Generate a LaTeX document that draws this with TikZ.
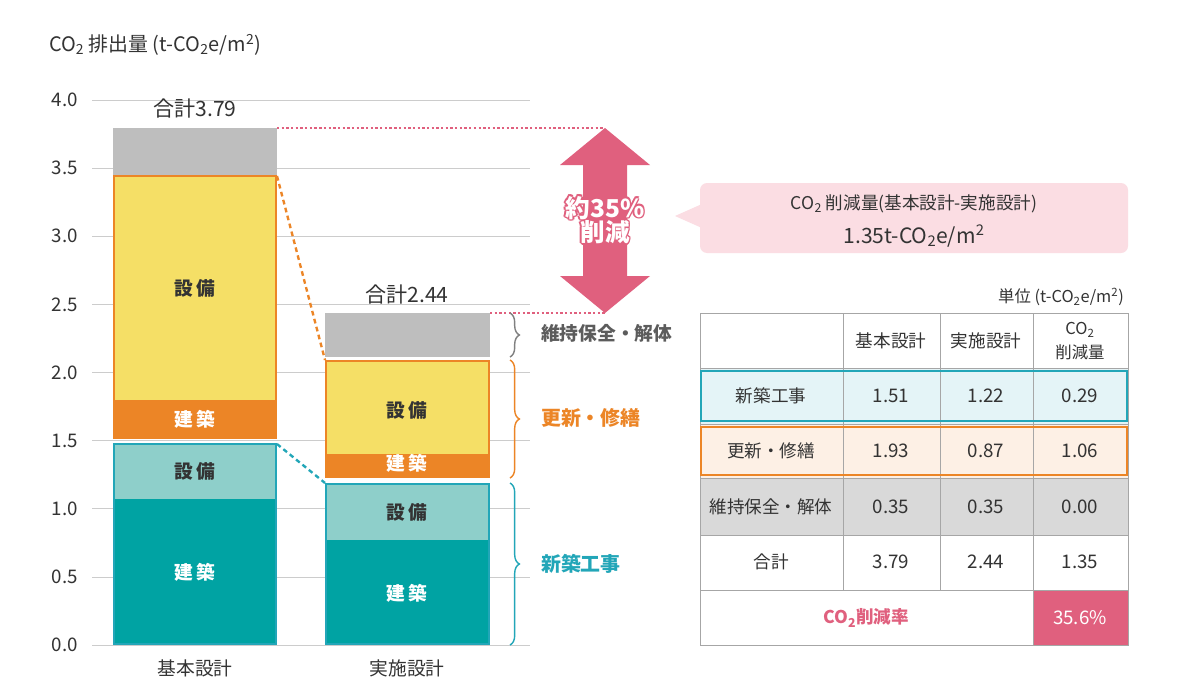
\documentclass[tikz,border=0pt]{standalone}
\usepackage{fontspec}
\setmainfont{Noto Sans CJK JP}
\usetikzlibrary{decorations.pathreplacing,shapes.arrows}
\definecolor{cgray}{HTML}{BEBEBE}
\definecolor{cyel}{HTML}{F5DF66}
\definecolor{cora}{HTML}{EC8526}
\definecolor{cltl}{HTML}{8ECFCA}
\definecolor{cdtl}{HTML}{00A3A3}
\definecolor{ctb}{HTML}{22A6B8}
\definecolor{cpink}{HTML}{E0607E}
\definecolor{cpbg}{HTML}{FBDDE3}
\definecolor{ctxt}{HTML}{333333}
\newcommand{\fs}[1]{\fontsize{#1}{#1}\selectfont}
\tikzset{
 lbl/.style={text=ctxt,font=\fs{16}},
 barlbl/.style={text=ctxt,font=\fs{16}\bfseries},
 cell/.style={text=ctxt,font=\fs{14}},
 grid/.style={draw=gray!40,line width=0.6pt},
 brace/.style={decorate,decoration={brace,amplitude=8pt},line width=1.2pt},
 pcttxt/.style={font=\fs{21}\bfseries,align=center},
}
\begin{document}
\begin{tikzpicture}[x=0.03cm,y=-0.03cm]
\useasboundingbox (0,0) rectangle (1200,687);
\fill[white] (0,0) rectangle (1200,687);
\node[lbl,anchor=west,font=\fs{17}] (title) at (45,45) {CO\textsubscript{2} 排出量 (t-CO\textsubscript{2}e/m\textsuperscript{2})};
% grid
\foreach \v/\t in {0/0.0,1/0.5,2/1.0,3/1.5,4/2.0,5/2.5,6/3.0,7/3.5,8/4.0}{
 \draw[grid] (92,645-68.125*\v) -- (530,645-68.125*\v);
 \node[lbl,anchor=east] at (82,645-68.125*\v) {\t};
}
% bar 1
\fill[cgray] (113,128) rectangle (277,175);
\fill[cyel] (113,175) rectangle (277,400);
\fill[cora] (113,400) rectangle (277,439);
\draw[cora,line width=2pt] (114,176) rectangle (276,438);
\fill[cltl] (113,443) rectangle (277,499);
\fill[cdtl] (113,499) rectangle (277,645);
\draw[ctb,line width=2pt] (114,444) rectangle (276,644);
\node[barlbl] at (195,288) {設\,備};
\node[barlbl,text=white] at (195,419) {建\,築};
\node[barlbl] at (195,471) {設\,備};
\node[barlbl,text=white] at (195,572) {建\,築};
\node[lbl,font=\fs{18}] (t1) at (195,109) {合計3.79};
\node[lbl] (x1) at (195,668) {基本設計};
% bar 2
\fill[cgray] (325,313) rectangle (490,357);
\fill[cyel] (325,360) rectangle (490,454);
\fill[cora] (325,454) rectangle (490,477);
\draw[cora,line width=2pt] (326,361) rectangle (489,477);
\fill[cltl] (325,483) rectangle (490,540);
\fill[cdtl] (325,540) rectangle (490,645);
\draw[ctb,line width=2pt] (326,484) rectangle (489,644);
\node[barlbl] at (407,410) {設\,備};
\node[barlbl,text=white] at (407,463) {建\,築};
\node[barlbl] at (407,512) {設\,備};
\node[barlbl,text=white] at (407,593) {建\,築};
\node[lbl,font=\fs{18}] (t2) at (407,295) {合計2.44};
\node[lbl] (x2) at (407,668) {実施設計};
% connectors
\draw[cora,line width=2pt,dash pattern=on 4pt off 3pt] (277,176) -- (325,360);
\draw[ctb,line width=2pt,dash pattern=on 4pt off 3pt] (277,444) -- (325,483);
\draw[cpink,line width=2pt,dotted] (277,128) -- (605,128);
\draw[cpink,line width=2pt,dotted] (490,313) -- (605,313);
% big arrow
\fill[cpink] (605,128) -- (650,165) -- (627,165) -- (627,276) -- (650,276) -- (605,313) -- (560,276) -- (583,276) -- (583,165) -- (560,165) -- cycle;
\foreach \dx/\dy in {-1.6/0,1.6/0,0/-1.6,0/1.6,-1.1/-1.1,1.1/1.1,-1.1/1.1,1.1/-1.1}
 \node[pcttxt,text=cpink] at (605+\dx,220+\dy) {約35\%\\削減};
\node[pcttxt,text=white] (pct) at (605,220) {約35\%\\削減};
% braces
\draw[brace,gray] (510,313) -- (510,357);
\node[lbl,anchor=west,font=\fs{16}\bfseries,text=ctxt!80] at (537,333) {維持保全・解体};
\draw[brace,cora] (510,360) -- (510,478);
\node[anchor=west,font=\fs{17}\bfseries,text=cora] at (537,418) {更新・修繕};
\draw[brace,ctb] (510,483) -- (510,645);
\node[anchor=west,font=\fs{17}\bfseries,text=ctb] at (537,564) {新築工事};
% callout
\fill[cpbg,rounded corners=6pt] (700,183) rectangle (1128,253);
\fill[cpbg] (702,204) -- (675,216) -- (702,228) -- cycle;
\node[lbl,font=\fs{15}] at (914,204) {CO\textsubscript{2} 削減量(基本設計-実施設計)};
\node[lbl,font=\fs{18}] at (914,236) {1.35t-CO\textsubscript{2}e/m\textsuperscript{2}};
% table
\node[lbl,font=\fs{14},anchor=east] at (1128,297) {単位 (t-CO\textsubscript{2}e/m\textsuperscript{2})};
\fill[ctb!12] (700,368) rectangle (1128,424);
\fill[cora!12] (700,424) rectangle (1128,478);
\fill[gray!30] (700,478) rectangle (1128,535);
\fill[cpink] (1033,590) rectangle (1128,645);
\draw[gray!70,line width=0.7pt] (700,313) rectangle (1128,645);
\foreach \yy in {368,424,478,535,590} \draw[gray!70,line width=0.7pt] (700,\yy) -- (1128,\yy);
\foreach \xx in {843,940} \draw[gray!70,line width=0.7pt] (\xx,313) -- (\xx,590);
\draw[gray!70,line width=0.7pt] (1033,313) -- (1033,645);
\draw[ctb,line width=2.5pt] (701,371) rectangle (1127,421);
\draw[cora,line width=2.5pt] (701,427) rectangle (1127,475);
\node[cell,font=\fs{15}] at (891,341) {基本設計};
\node[cell,font=\fs{15}] at (986,341) {実施設計};
\node[cell,font=\fs{14}] at (1080,330) {CO\textsubscript{2}};
\node[cell,font=\fs{14}] at (1080,352) {削減量};
\foreach \r/\yy/\a/\b/\c in {新築工事/396/1.51/1.22/0.29,更新・修繕/451/1.93/0.87/1.06,維持保全・解体/507/0.35/0.35/0.00,合計/562/3.79/2.44/1.35}{
 \node[cell,font=\fs{15}] at (771,\yy) {\r};
 \node[cell,font=\fs{16}] at (891,\yy) {\a};
 \node[cell,font=\fs{16}] at (986,\yy) {\b};
 \node[cell,font=\fs{16}] at (1080,\yy) {\c};
}
\node[font=\fs{15}\bfseries,text=cpink] at (866,618) {CO\textsubscript{2}削減率};
\node[font=\fs{16},text=white] at (1080,618) {35.6\%};
\end{tikzpicture}
\end{document}
